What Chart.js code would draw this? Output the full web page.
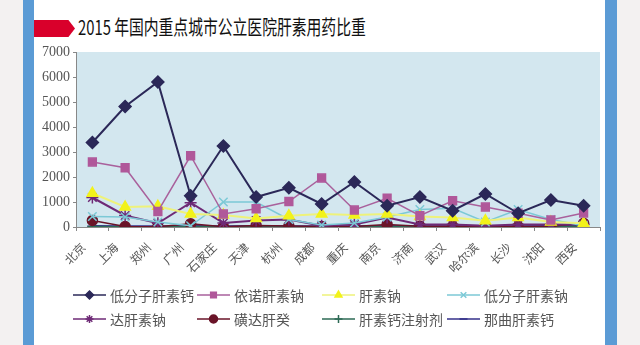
<!DOCTYPE html>
<html>
<head>
<meta charset="utf-8">
<script src="https://cdn.jsdelivr.net/npm/chart.js@4/dist/chart.umd.min.js"></script>
<style>
  html, body { margin: 0; padding: 0; }
  body { width: 640px; height: 345px; background: #f3f1f1; position: relative; overflow: hidden; }
  .card { position: absolute; left: 34px; top: 0; width: 571px; height: 345px; background: #fff; }
  .barL { position: absolute; left: 23px; top: 0; width: 11px; height: 345px; background: #5b9bd5; }
  .barR { position: absolute; left: 605px; top: 0; width: 12px; height: 345px; background: #5b9bd5; }
  .arrow { position: absolute; left: 34px; top: 20px; width: 41px; height: 17px; background: #d9002b;
           clip-path: polygon(0 0, 84% 0, 100% 50%, 84% 100%, 0 100%); }
  .title { position: absolute; left: 78px; top: 17px; font: 20px "Noto Sans CJK SC", sans-serif; line-height: 20px;
           color: #111; white-space: nowrap; transform: scaleX(0.74); transform-origin: left top; }
  .wrap { position: absolute; left: 0; top: 0; width: 640px; height: 345px; }
</style>
</head>
<body>
<div class="card"></div>
<div class="barL"></div>
<div class="barR"></div>
<div class="arrow"></div>
<div class="title">2015 年国内重点城市公立医院肝素用药比重</div>
<div class="wrap"><canvas id="myChart"></canvas></div>
<script>
// ------------------------Data------------------------------------
const cities = ["北京", "上海", "郑州", "广州", "石家庄", "天津", "杭州", "成都",
  "重庆", "南京", "济南", "武汉", "哈尔滨", "长沙", "沈阳", "西安"]
const yTicks = [0, 1000, 2000, 3000, 4000, 5000, 6000, 7000]

const diFenZiGai = [3380, 4820, 5800, 1250, 3240, 1200, 1570, 920, 1800, 850, 1200, 650, 1320, 550, 1080, 850]
const yiNuoNa = [2600, 2370, 620, 2850, 520, 730, 1020, 1960, 680, 1150, 450, 1050, 800, 550, 280, 560]
const ganSuNa = [1350, 800, 830, 520, 480, 340, 450, 520, 480, 520, 420, 380, 250, 380, 200, 150]
const diFenZiNa = [420, 400, 200, 50, 1000, 1000, 300, 80, 160, 400, 700, 750, 200, 700, 300, 50]
const daGanSuNa = [1180, 460, 150, 970, 160, 260, 300, 50, 100, 380, 100, 100, 50, 100, 100, 100]
const huangDa = [260, 20, 10, 130, 10, 60, 40, 20, 20, 100, 30, 30, 20, 20, 30, 150]
const zhuSheJi = [20, 10, 10, 20, 10, 20, 10, 10, 10, 20, 10, 10, 10, 10, 10, 40]
const naQu = [30, 20, 20, 30, 20, 30, 20, 20, 20, 30, 20, 20, 20, 20, 30, 60]

const seriesNames = ["低分子肝素钙", "依诺肝素钠", "肝素钠", "低分子肝素钠",
  "达肝素钠", "磺达肝癸", "肝素钙注射剂", "那曲肝素钙"]

// ------------------------Plugins------------------------------------
const plotBackground = {
  id: 'plotBackground',
  beforeDraw(chart) {
    const { ctx, chartArea: a } = chart
    ctx.save()
    ctx.fillStyle = '#d3e7ef'
    ctx.fillRect(a.left, a.top, a.right - a.left, a.bottom - a.top)
    ctx.restore()
  }
}

// slanted city names, placed from the x scale
const slantLabels = {
  id: 'slantLabels',
  afterDraw(chart) {
    const ctx = chart.ctx
    const xScale = chart.scales.x
    ctx.save()
    ctx.fillStyle = '#555'
    ctx.font = '12px "Noto Sans CJK SC", sans-serif'
    ctx.textAlign = 'right'
    ctx.textBaseline = 'middle'
    cities.forEach((name, i) => {
      const x = xScale.getPixelForValue(i)
      ctx.save()
      ctx.translate(x - 9, xScale.top + 18)
      ctx.rotate(-Math.PI / 4)
      ctx.fillText(name, 0, 0)
      ctx.restore()
    })
    ctx.restore()
  }
}

// legend in a 4 x 2 grid under the axis
const gridLegend = {
  id: 'gridLegend',
  afterDraw(chart) {
    const ctx = chart.ctx
    const colX = [73, 197, 322, 447]
    const rowY = [295, 319]
    ctx.save()
    chart.data.datasets.forEach((ds, i) => {
      const x = colX[i % 4]
      const y = rowY[Math.floor(i / 4)]
      ctx.strokeStyle = ds.borderColor
      ctx.lineWidth = 1.5
      ctx.beginPath()
      ctx.moveTo(x, y)
      ctx.lineTo(x + 33, y)
      ctx.stroke()
      ctx.fillStyle = ds.pointBackgroundColor
      ctx.strokeStyle = ds.pointBorderColor
      ctx.lineWidth = 1.5
      Chart.helpers.drawPoint(ctx, { pointStyle: ds.pointStyle, radius: 4, rotation: 0, borderWidth: 1.5 }, x + 16.5, y)
      ctx.fillStyle = '#555'
      ctx.font = '14px "Noto Sans CJK SC", sans-serif'
      ctx.textBaseline = 'middle'
      ctx.fillText(ds.label, x + 37, y + 1)
    })
    ctx.restore()
  }
}

// ------------------------Chart------------------------------------
const makeSet = (label, data, line, fill, style, radius, width) => ({
  label: label,
  data: data,
  borderColor: line,
  borderWidth: width,
  pointStyle: style,
  pointRadius: radius,
  pointBackgroundColor: fill,
  pointBorderColor: style === 'star' || style === 'crossRot' || style === 'cross' || style === 'line' ? line : fill,
  pointBorderWidth: 1.5,
  tension: 0
})

const datasets = [
  makeSet(seriesNames[0], diFenZiGai, '#2b2858', '#2b2858', 'rectRot', 6, 2),
  makeSet(seriesNames[1], yiNuoNa, '#a9619c', '#b0589a', 'rect', 5.5, 1.5),
  makeSet(seriesNames[2], ganSuNa, '#eef27a', '#f2f21a', 'triangle', 6, 2),
  makeSet(seriesNames[3], diFenZiNa, '#7cc9d6', '#7cc9d6', 'crossRot', 6, 1.5),
  makeSet(seriesNames[4], daGanSuNa, '#6e2a76', '#6e2a76', 'star', 6, 2),
  makeSet(seriesNames[5], huangDa, '#6a1428', '#6a1428', 'circle', 5, 1.5),
  makeSet(seriesNames[6], zhuSheJi, '#2d6a55', '#2d6a55', 'cross', 5, 1.5),
  makeSet(seriesNames[7], naQu, '#35318a', '#35318a', 'line', 5, 2.5)
]

const chartConfig = {
  type: 'line',
  data: { labels: cities, datasets: datasets },
  options: {
    responsive: false,
    animation: false,
    devicePixelRatio: 1,
    layout: { padding: { left: 30, right: 40, top: 52, bottom: 58 } },
    plugins: { legend: { display: false }, tooltip: { enabled: false } },
    scales: {
      x: {
        offset: true,
        afterFit(scale) { scale.height = 60 },
        grid: { display: true, drawOnChartArea: false, offset: true, tickLength: 4, color: '#888' },
        border: { color: '#888', width: 1 },
        ticks: { display: false }
      },
      y: {
        min: 0, max: 7000,
        afterFit(scale) { scale.width = 46 },
        afterBuildTicks(scale) { scale.ticks = yTicks.map(v => ({ value: v })) },
        grid: { display: true, drawOnChartArea: false, tickLength: 3, color: '#888' },
        border: { color: '#888', width: 1 },
        ticks: {
          padding: 3, color: '#555',
          font: { family: '"Liberation Serif", serif', size: 14 },
          callback: (v) => String(v)
        }
      }
    }
  },
  plugins: [plotBackground, slantLabels, gridLegend]
}

const chartCanvas = document.getElementById('myChart')
chartCanvas.width = 640
chartCanvas.height = 345
const myChart = new Chart(chartCanvas, chartConfig)
</script>
</body>
</html>
